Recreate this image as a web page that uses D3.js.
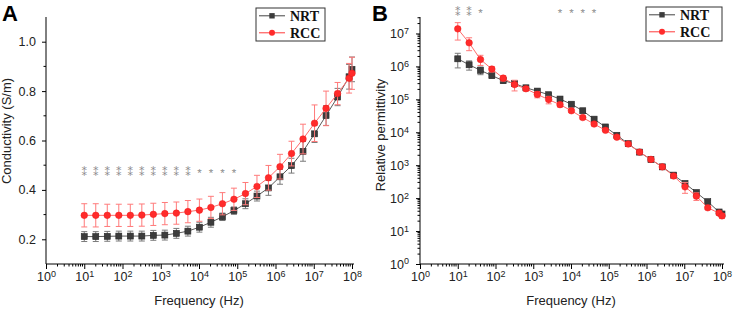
<!DOCTYPE html>
<html><head><meta charset="utf-8">
<script src="https://cdn.jsdelivr.net/npm/d3@7"></script>
<style>
body{margin:0;background:#fff}
svg{display:block}
text{font-family:Arial,"Liberation Sans",sans-serif}
</style>
</head><body><svg id="c" width="733" height="309"></svg>
<script>
// ---------- data ----------
const frequencies = [10,20,40,80,160,320,640,1280,2560,5120,10240,20480,40960,81920,163840,327680,655360,1310720,2621440,5242880,10485760,20971520,41943040,83886080,100000000];

const condNRT    = [0.211,0.211,0.212,0.213,0.213,0.213,0.216,0.217,0.224,0.233,0.249,0.269,0.291,0.316,0.344,0.375,0.408,0.453,0.498,0.556,0.627,0.701,0.776,0.858,0.888];
const condNRTErr = [0.02,0.02,0.02,0.02,0.02,0.02,0.02,0.02,0.02,0.02,0.02,0.02,0.015,0.015,0.02,0.02,0.03,0.03,0.03,0.04,0.035,0.04,0.035,0.05,0.05];
const condRCC    = [0.297,0.297,0.297,0.297,0.297,0.298,0.301,0.304,0.306,0.312,0.318,0.329,0.344,0.362,0.385,0.414,0.449,0.494,0.547,0.606,0.670,0.730,0.790,0.852,0.872];
const condRCCErr = [0.047,0.047,0.045,0.045,0.045,0.045,0.045,0.045,0.045,0.045,0.045,0.045,0.045,0.045,0.045,0.045,0.05,0.05,0.05,0.06,0.074,0.07,0.045,0.06,0.065];

const permNRT    = [1.7e6,1.12e6,7.6e5,5.25e5,3.7e5,3.0e5,2.24e5,1.78e5,1.38e5,1.02e5,7.1e4,4.5e4,2.5e4,1.45e4,8.1e3,4.5e3,2.5e3,1.48e3,890,500,280,148,78,38,33];
const permNRTErr = [8e5,3.5e5,2e5,8e4,6e4,4e4,2e4,1.5e4,1e4,8e3,5e3,3e3,2e3,1e3,600,300,200,100,60,40,25,12,6,4,3];
const permRCC    = [1.38e7,5.2e6,1.62e6,8.3e5,4.4e5,2.8e5,2.1e5,1.41e5,9.8e4,6.9e4,4.5e4,2.8e4,1.78e4,1.15e4,7.1e3,4.4e3,2.5e3,1.5e3,890,470,220,115,51,35,29];
const permRCCErr = [7.5e6,2.2e6,5.5e5,1.5e5,8e4,1e5,3e4,3e4,2.5e4,1e4,5e3,3e3,2e3,1e3,600,300,200,150,100,50,80,30,6,5,5];

// significance marks: "**" drawn as the vertically stacked glyph U+2051
const starsA = ["**","**","**","**","**","**","**","**","**","**","*","*","*","*","","","","","","","","","","",""];
const starsB = ["**","**","*","","","","","","","*","*","*","*","","","","","","","","","","","",""];

const xTicks = [1,10,100,1e3,1e4,1e5,1e6,1e7,1e8];
const yTicksA = [0.2,0.4,0.6,0.8,1.0];
const yMinorA = [0.3,0.5,0.7,0.9];
const yTicksB = [1,10,100,1e3,1e4,1e5,1e6,1e7];
const seriesNames = ["NRT","RCC"];

// ---------- styles ----------
const C = {
  nrtFill:"#3c3c3c", nrtStroke:"#262626", nrtLine:"#5a5a5a", nrtErr:"#7a7a7a",
  rccFill:"#ff2b2b", rccStroke:"#f01818", rccLine:"#ff6b6b", rccErr:"#ff7a7a",
  star:"#8c8c8c"
};

const svg = d3.select("#c");

function logMinors(lo, hi){
  const m=[];
  for(let d=lo; d<hi; d++) for(let k=2;k<=9;k++) m.push(k*Math.pow(10,d));
  return m;
}

function supFormat(sel){
  sel.each(function(d){
    const t=d3.select(this);
    const e=Math.round(Math.log10(d));
    t.text(null);
    t.append("tspan").text("10");
    t.append("tspan").attr("dy","-0.45em").attr("font-size","0.72em").text(e);
  });
}

function drawPanel(o){
  const g = svg.append("g");
  const x = d3.scaleLog().domain([1,1e8]).range([o.x0,o.x1]);
  const y = o.y;

  // x axis
  const xa = g.append("g").attr("transform",`translate(0,${o.yb})`)
    .call(d3.axisBottom(x).tickValues(xTicks).tickSize(5).tickSizeOuter(0).tickPadding(3));
  xa.selectAll(".tick text").attr("font-size","12.5px").attr("fill","#222").call(supFormat);
  xa.select(".domain").attr("d",`M${o.x0},0H${o.x1+2}`);
  g.append("g").selectAll("line").data(logMinors(0,8)).join("line")
    .attr("x1",d=>x(d)).attr("x2",d=>x(d)).attr("y1",o.yb).attr("y2",o.yb+2.5)
    .attr("stroke","#000").attr("stroke-width",1);

  // y axis
  const ya = g.append("g").attr("transform",`translate(${o.x0},0)`).call(o.yAxis);
  ya.select(".domain").attr("d",`M0,${o.yb}V${o.yTop}`);
  ya.selectAll(".tick text").attr("font-size","12.5px").attr("fill","#222");
  if(o.ySup) ya.selectAll(".tick text").call(supFormat);
  g.append("g").selectAll("line").data(o.yMinor).join("line")
    .attr("x1",o.x0).attr("x2",o.x0-2.5).attr("y1",d=>y(d)).attr("y2",d=>y(d))
    .attr("stroke","#000").attr("stroke-width",1);

  // labels
  g.append("text").attr("x",(o.x0+o.x1)/2).attr("y",305).attr("text-anchor","middle")
    .attr("font-size","13px").attr("fill","#222").text("Frequency (Hz)");
  g.append("text").attr("transform",`translate(${o.ylx},${o.yly}) rotate(-90)`)
    .attr("text-anchor","middle").attr("font-size","13px").attr("fill","#222").text(o.yLabel);
  g.append("text").attr("x",o.letterX).attr("y",21).attr("font-size","22px")
    .attr("font-weight","bold").attr("fill","#000").text(o.letter);

  // series
  const series = [
    {vals:o.nrt, err:o.nrtErr, fill:C.nrtFill, stroke:C.nrtStroke, line:C.nrtLine, ec:C.nrtErr, shape:"square"},
    {vals:o.rcc, err:o.rccErr, fill:C.rccFill, stroke:C.rccStroke, line:C.rccLine, ec:C.rccErr, shape:"circle"}
  ];
  const yMin = y.domain()[0];
  series.forEach(s=>{
    const sg = g.append("g");
    const pts = frequencies.map((f,i)=>({f,v:s.vals[i],e:s.err[i]}));
    const eb = sg.append("g").attr("stroke",s.ec).attr("stroke-width",1);
    pts.forEach(p=>{
      const lo = Math.max(p.v-p.e, yMin*1.0001), hi = p.v+p.e;
      const cx = x(p.f);
      eb.append("line").attr("x1",cx).attr("x2",cx).attr("y1",y(lo)).attr("y2",y(hi));
      eb.append("line").attr("x1",cx-3).attr("x2",cx+3).attr("y1",y(lo)).attr("y2",y(lo));
      eb.append("line").attr("x1",cx-3).attr("x2",cx+3).attr("y1",y(hi)).attr("y2",y(hi));
    });
    sg.append("path").datum(pts)
      .attr("d",d3.line().x(p=>x(p.f)).y(p=>y(p.v)))
      .attr("fill","none").attr("stroke",s.line).attr("stroke-width",1);
    if(s.shape==="square"){
      sg.selectAll("rect").data(pts).join("rect")
        .attr("x",p=>x(p.f)-3).attr("y",p=>y(p.v)-3).attr("width",6).attr("height",6)
        .attr("fill",s.fill).attr("stroke",s.stroke).attr("stroke-width",0.6);
    } else {
      sg.selectAll("circle").data(pts).join("circle")
        .attr("cx",p=>x(p.f)).attr("cy",p=>y(p.v)).attr("r",3.3)
        .attr("fill",s.fill).attr("stroke",s.stroke).attr("stroke-width",0.5);
    }
  });

  // stars: one text per point; double mark uses the stacked glyph "⁑"
  const sy = y(o.starLevel);
  const stg = g.append("g").attr("fill",C.star).attr("text-anchor","middle");
  frequencies.forEach((f,i)=>{
    const s=o.stars[i];
    if(!s) return;
    if(s.length>1){
      stg.append("text").attr("x",x(f)).attr("y",sy+5.5)
        .style("font-family",'"DejaVu Sans",sans-serif').style("font-size","11px").text("\u2051");
    } else {
      stg.append("text").attr("x",x(f)).attr("y",sy+6.5)
        .style("font-size","11.5px").text("*");
    }
  });

  // legend
  const L = o.legend;
  const lg = g.append("g");
  lg.append("rect").attr("x",L.x).attr("y",L.y).attr("width",L.w).attr("height",L.h)
    .attr("fill","#fff").attr("stroke","#333").attr("stroke-width",1);
  seriesNames.forEach((nm,i)=>{
    const s=series[i];
    const ly = L.y+7.8+i*17;
    const lx0=L.x+3, lx1=L.x+29, mx=(lx0+lx1)/2;
    lg.append("line").attr("x1",lx0).attr("x2",lx1).attr("y1",ly).attr("y2",ly)
      .attr("stroke",i===0?"#444":"#ff3b3b").attr("stroke-width",1);
    if(i===0) lg.append("rect").attr("x",mx-2.7).attr("y",ly-2.7).attr("width",5.4).attr("height",5.4).attr("fill",s.fill);
    else lg.append("circle").attr("cx",mx).attr("cy",ly).attr("r",3).attr("fill",s.fill);
    lg.append("text").attr("x",lx1+5).attr("y",ly+4.8)
      .style("font-family",'"Liberation Serif","Times New Roman",serif')
      .style("font-weight","bold").style("font-size","14px").attr("fill","#111").text(nm);
  });
}

// Panel A
const yA = d3.scaleLinear().domain([0.1,1.1]).range([264,17]);
drawPanel({
  x0:46, x1:352, yb:264, yTop:17, y:yA,
  yAxis:d3.axisLeft(yA).tickValues(yTicksA).tickFormat(d3.format(".1f")).tickSize(4).tickSizeOuter(0).tickPadding(6),
  yMinor:yMinorA, ySup:false,
  yLabel:"Conductivity (S/m)", ylx:11, yly:131,
  letter:"A", letterX:2,
  nrt:condNRT, nrtErr:condNRTErr, rcc:condRCC, rccErr:condRCCErr,
  stars:starsA, starLevel:0.477,
  legend:{x:256,y:8,w:69,h:33}
});

// Panel B
const yB = d3.scaleLog().domain([1,Math.pow(10,7.5)]).range([264,17]);
drawPanel({
  x0:420, x1:722, yb:264, yTop:17, y:yB,
  yAxis:d3.axisLeft(yB).tickValues(yTicksB).tickSize(4).tickSizeOuter(0).tickPadding(7),
  yMinor:logMinors(0,7).concat([2e7,3e7]), ySup:true,
  yLabel:"Relative permittivity", ylx:385, yly:135,
  letter:"B", letterX:372,
  nrt:permNRT, nrtErr:permNRTErr, rcc:permRCC, rccErr:permRCCErr,
  stars:starsB, starLevel:5.1e7,
  legend:{x:646,y:7,w:76,h:34}
});
</script>
</body></html>
